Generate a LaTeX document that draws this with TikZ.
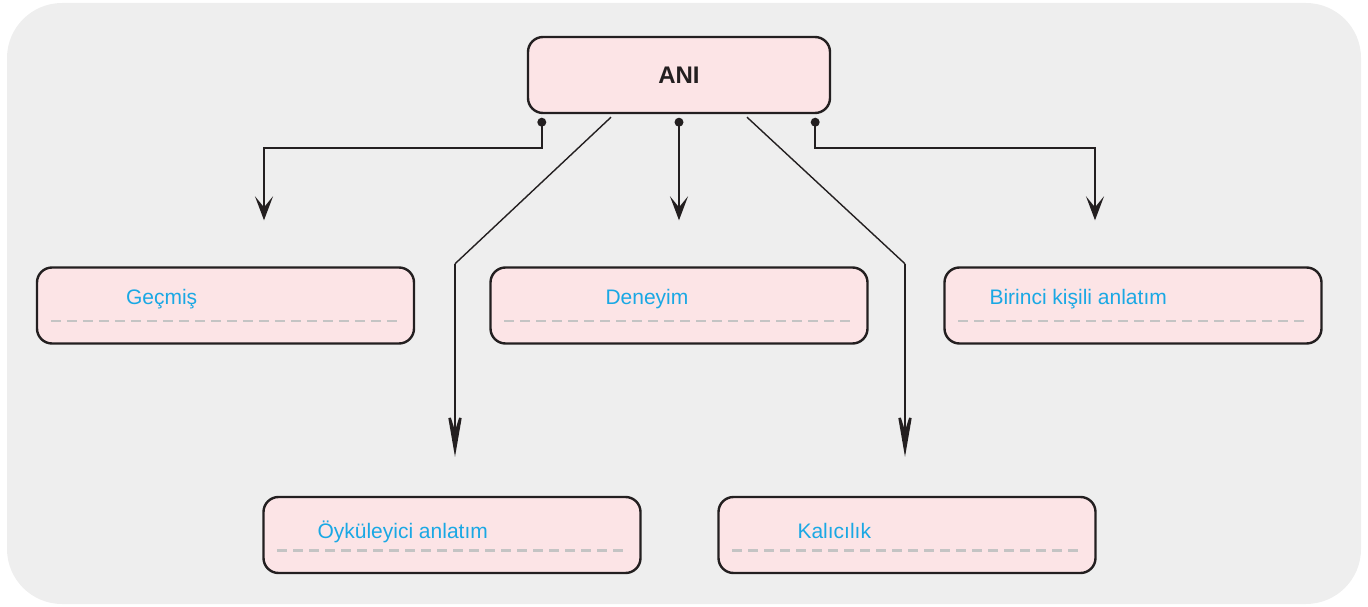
\documentclass[tikz,border=0pt]{standalone}
\usepackage{fontspec}
\setmainfont{Liberation Sans}
\usetikzlibrary{positioning, arrows.meta, calc}

\definecolor{bgGray}{HTML}{EEEEEE}
\definecolor{boxPink}{HTML}{FCE4E6}
\definecolor{textBlue}{HTML}{1AA8E4}
\definecolor{dashGray}{HTML}{C4C4C4}
\definecolor{lineDark}{HTML}{231F20}

\begin{document}
\begin{tikzpicture}[x=1pt, y=-1pt,
    box/.style={draw=lineDark, fill=boxPink, line width=2.4pt, rounded corners=15pt,
        minimum width=377pt, minimum height=76pt, inner sep=0pt},
    boxtext/.style={text=textBlue, font=\fontsize{21}{25}\selectfont, anchor=base west, inner sep=0pt},
    dashline/.style={draw=dashGray, line width=2.4pt, dash pattern=on 10pt off 6pt},
    arrow/.style={-{Stealth[length=24pt, width=18pt, inset=11pt]}, line width=2.4pt, draw=lineDark},
    longarrow/.style={-{Stealth[length=58pt, width=20pt, inset=32pt]}, line width=2.6pt, draw=lineDark},
    thinline/.style={line width=1.4pt, draw=lineDark}
]

    % Background panel
    \useasboundingbox (0,0) rectangle (1368,607);
    \fill[bgGray, rounded corners=55pt] (7,3) rectangle (1361,604);

    % Main box
    \node[box, minimum width=302pt] (ani) at (679,75)
        {\fontsize{24}{28}\selectfont\bfseries\color{lineDark}ANI};

    % Boxes
    \node[box] (gecmis) at (225.5,305.5) {};
    \node[box] (deneyim) at (679,305.5) {};
    \node[box] (birinci) at (1133,305.5) {};
    \node[box] (oyku) at (452,535) {};
    \node[box] (kalici) at (907,535) {};

    % Texts
    \node[boxtext] (gecmisT) at ([xshift=90pt, yshift=1.5pt]gecmis.west) {Geçmiş};
    \node[boxtext] (deneyimT) at ([xshift=116pt, yshift=1.5pt]deneyim.west) {Deneyim};
    \node[boxtext] (birinciT) at ([xshift=46pt, yshift=1.5pt]birinci.west) {Birinci kişili anlatım};
    \node[boxtext] (oykuT) at ([xshift=55pt, yshift=-3pt]oyku.west) {Öyküleyici anlatım};
    \node[boxtext] (kaliciT) at ([xshift=80pt, yshift=-3pt]kalici.west) {Kalıcılık};

    % Dashed lines
    \foreach \b in {gecmis, deneyim, birinci, oyku, kalici}
        \draw[dashline] ([xshift=15pt, yshift=-15.5pt]\b.west) -- ([xshift=-16pt, yshift=-15.5pt]\b.east);

    % Connector points
    \coordinate (d1) at ([xshift=15pt, yshift=-8pt]ani.south west);
    \coordinate (d2) at ([yshift=-8pt]ani.south);
    \coordinate (d3) at ([xshift=-16pt, yshift=-8pt]ani.south east);
    \coordinate (t1) at ([xshift=38.5pt, yshift=46pt]gecmis.north);
    \coordinate (t2) at ([yshift=46pt]deneyim.north);
    \coordinate (t3) at ([xshift=-38pt, yshift=46pt]birinci.north);
    \coordinate (s4) at ([xshift=-68pt, yshift=-3pt]ani.south);
    \coordinate (b4) at ([xshift=3pt, yshift=232pt]oyku.north);
    \coordinate (t4) at ([xshift=3pt, yshift=39pt]oyku.north);
    \coordinate (s5) at ([xshift=68pt, yshift=-3pt]ani.south);
    \coordinate (b5) at ([xshift=-2pt, yshift=232pt]kalici.north);
    \coordinate (t5) at ([xshift=-2pt, yshift=39pt]kalici.north);

    % Dots
    \foreach \d in {d1, d2, d3}
        \fill[lineDark] (\d) circle (4.5pt);

    % Arrows to top row
    \draw[arrow] (d1) -- ++(0,26) -| (t1);
    \draw[arrow] (d2) -- (t2);
    \draw[arrow] (d3) -- ++(0,26) -| (t3);

    % Arrows to bottom row
    \draw[thinline] (s4) -- (b4);
    \draw[longarrow] (b4) -- (t4);
    \draw[thinline] (s5) -- (b5);
    \draw[longarrow] (b5) -- (t5);

\end{tikzpicture}
\end{document}
